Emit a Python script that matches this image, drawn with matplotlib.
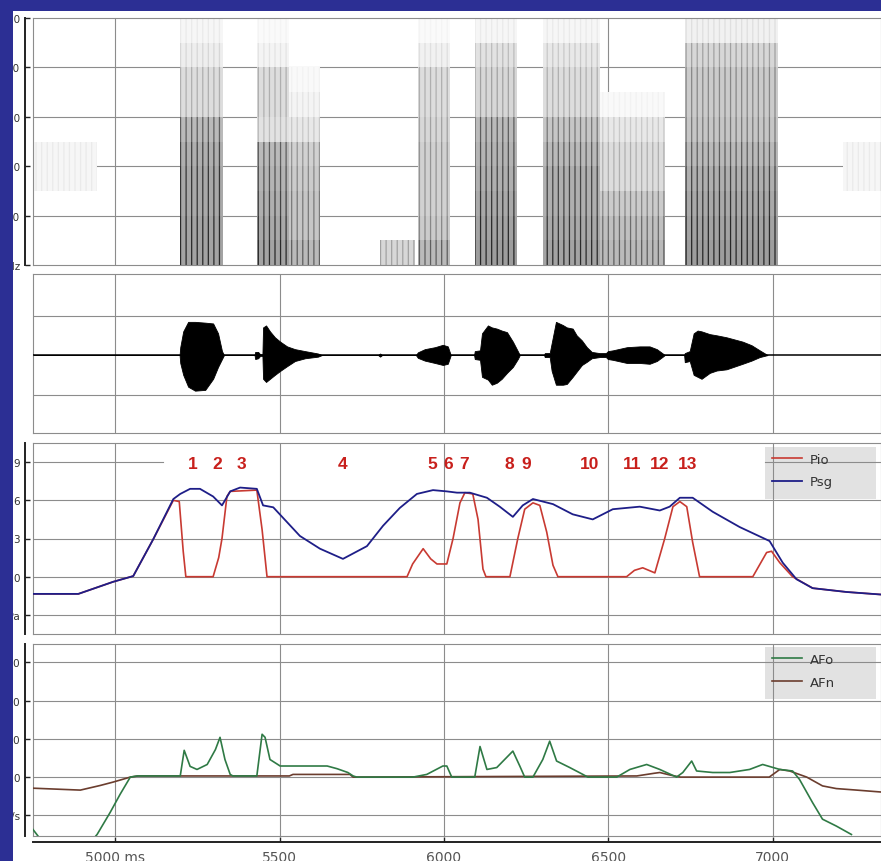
import numpy as np
import matplotlib
matplotlib.use("Agg")
import matplotlib.pyplot as plt
from matplotlib.patches import Rectangle

# ---- data ----
# time axis (ms)
x_ticks = [5000, 5500, 6000, 6500, 7000]
x_labels = ["5000 ms", "5500", "6000", "6500", "7000"]

# spectrogram: segments (start ms, end ms) and darkness per 500 Hz band (0..5000 Hz)
spec_start = [4750, 5198, 5431, 5530, 5806, 5921, 6094, 6301, 6474, 6733, 7213]
spec_end = [4945, 5328, 5530, 5623, 5912, 6018, 6222, 6474, 6672, 7016, 7330]
spec_dark = [
    [0.0, 0.0, 0.0, 0.08, 0.08, 0.0, 0.0, 0.0, 0.0, 0.0],
    [0.8, 0.8, 0.75, 0.75, 0.7, 0.6, 0.3, 0.3, 0.15, 0.08],
    [0.8, 0.75, 0.7, 0.65, 0.6, 0.25, 0.3, 0.3, 0.1, 0.04],
    [0.6, 0.5, 0.5, 0.45, 0.4, 0.2, 0.1, 0.05, 0.0, 0.0],
    [0.35, 0.0, 0.0, 0.0, 0.0, 0.0, 0.0, 0.0, 0.0, 0.0],
    [0.6, 0.45, 0.4, 0.4, 0.4, 0.35, 0.3, 0.3, 0.12, 0.04],
    [0.85, 0.8, 0.75, 0.7, 0.65, 0.6, 0.35, 0.35, 0.25, 0.08],
    [0.8, 0.75, 0.7, 0.7, 0.6, 0.5, 0.3, 0.3, 0.2, 0.08],
    [0.6, 0.55, 0.45, 0.3, 0.3, 0.2, 0.05, 0.0, 0.0, 0.0],
    [0.85, 0.8, 0.75, 0.7, 0.6, 0.5, 0.45, 0.45, 0.35, 0.12],
    [0.0, 0.0, 0.0, 0.08, 0.08, 0.0, 0.0, 0.0, 0.0, 0.0],
]
spec_yticks = [0, 1000, 2000, 3000, 4000, 5000]
spec_ylabels = ["Hz", "1000", "2000", "3000", "4000", "5000"]

# audio waveform envelope (upper / lower)
wave_t = [4750, 5196, 5198, 5207, 5222, 5243, 5274, 5298, 5313, 5325, 5331,
          5424, 5426, 5435, 5441, 5448, 5450, 5459, 5471, 5486, 5502, 5523, 5547, 5578, 5617, 5629,
          5800, 5806, 5812,
          5915, 5921, 5942, 5973, 5997, 6012, 6021,
          6092, 6094, 6110, 6116, 6134, 6146, 6161, 6176, 6192, 6210, 6225, 6231,
          6305, 6307, 6322, 6328, 6341, 6362, 6374, 6392, 6404, 6420, 6435, 6450, 6474, 6493,
          6499, 6514, 6557, 6596, 6626, 6648, 6666, 6672,
          6731, 6733, 6748, 6760, 6772, 6784, 6809, 6830, 6860, 6909, 6936, 6961, 6985]
wave_hi = [0, 0, 0.2, 0.6, 0.84, 0.84, 0.82, 0.8, 0.55, 0.1, 0,
           0, 0.08, 0.08, 0.02, 0.02, 0.7, 0.75, 0.6, 0.45, 0.34, 0.22, 0.15, 0.1, 0.04, 0,
           0, 0.04, 0,
           0, 0.07, 0.15, 0.2, 0.26, 0.22, 0,
           0, 0.1, 0.12, 0.55, 0.75, 0.7, 0.67, 0.62, 0.58, 0.34, 0.1, 0,
           0, 0.05, 0.05, 0.3, 0.84, 0.76, 0.7, 0.67, 0.5, 0.37, 0.2, 0.08, 0.05, 0.05,
           0.1, 0.12, 0.2, 0.22, 0.22, 0.15, 0.04, 0,
           0, 0.05, 0.1, 0.55, 0.62, 0.6, 0.53, 0.5, 0.45, 0.34, 0.25, 0.12, 0]
wave_lo = [0, 0, -0.2, -0.5, -0.8, -0.9, -0.88, -0.6, -0.3, -0.1, 0,
           0, -0.1, -0.08, -0.02, -0.02, -0.6, -0.68, -0.6, -0.5, -0.4, -0.28, -0.15, -0.08, -0.04, 0,
           0, -0.04, 0,
           0, -0.07, -0.14, -0.2, -0.25, -0.22, 0,
           0, -0.1, -0.12, -0.55, -0.62, -0.75, -0.7, -0.6, -0.45, -0.3, -0.1, 0,
           0, -0.05, -0.05, -0.4, -0.75, -0.75, -0.73, -0.55, -0.42, -0.25, -0.17, -0.08, -0.05, -0.05,
           -0.1, -0.12, -0.2, -0.2, -0.22, -0.15, -0.04, 0,
           0, -0.18, -0.15, -0.5, -0.55, -0.6, -0.45, -0.39, -0.36, -0.22, -0.14, -0.05, 0]

# pressures (hPa)
psg_t = [4750, 4888, 4994, 5055, 5116, 5177, 5198, 5228, 5258, 5298, 5325, 5350, 5380, 5431,
         5450, 5481, 5562, 5623, 5693, 5766, 5815, 5866, 5918, 5967, 6009, 6040, 6079, 6131,
         6170, 6210, 6240, 6271, 6332, 6392, 6453, 6514, 6596, 6657, 6687, 6718, 6757, 6818,
         6900, 6991, 7031, 7073, 7122, 7225, 7330]
psg = [-1.35, -1.35, -0.4, 0.05, 2.95, 6.1, 6.5, 6.9, 6.9, 6.3, 5.6, 6.7, 7.0, 6.9,
       5.6, 5.45, 3.2, 2.2, 1.4, 2.4, 4.0, 5.4, 6.5, 6.8, 6.7, 6.6, 6.6, 6.2,
       5.5, 4.7, 5.6, 6.1, 5.7, 4.9, 4.5, 5.3, 5.5, 5.2, 5.5, 6.2, 6.2, 5.1,
       3.9, 2.8, 1.1, -0.2, -0.9, -1.2, -1.4]
pio_t = [4750, 4888, 4994, 5055, 5116, 5177, 5195, 5207, 5215, 5298, 5315, 5325, 5340, 5350,
         5431, 5447, 5462, 5888, 5905, 5937, 5960, 5979, 6009, 6028, 6049, 6064, 6088, 6104,
         6119, 6128, 6201, 6225, 6246, 6271, 6292, 6313, 6332, 6347, 6556, 6580, 6605, 6642,
         6672, 6697, 6718, 6739, 6757, 6778, 6940, 6982, 6997, 7022, 7061, 7122, 7225, 7330]
pio = [-1.35, -1.35, -0.4, 0.05, 2.95, 6.0, 5.9, 2.0, 0.0, 0.0, 1.5, 3.0, 6.3, 6.7,
       6.8, 3.7, 0.0, 0.0, 1.0, 2.2, 1.4, 1.0, 1.0, 3.0, 5.8, 6.6, 6.5, 4.5,
       0.6, 0.0, 0.0, 3.0, 5.3, 5.8, 5.6, 3.5, 0.9, 0.0, 0.0, 0.5, 0.7, 0.3,
       3.0, 5.5, 5.9, 5.5, 2.7, 0.0, 0.0, 1.9, 2.0, 1.1, 0.0, -0.9, -1.2, -1.4]
p_yticks = [-3, 0, 3, 6, 9]
p_ylabels = ["hPa", "0", "3", "6", "9"]

# event numbers above the pressure traces
event_labels = ["1", "2", "3", "4", "5", "6", "7", "8", "9", "10", "11", "12", "13"]
event_t = [5237, 5310, 5383, 5693, 5964, 6012, 6061, 6198, 6252, 6444, 6572, 6657, 6742]

# airflow (ml/s)
afo_t = [4750, 4775, 4930, 4945, 4985, 5015, 5046, 5067, 5198, 5210, 5228, 5249, 5280, 5305,
         5319, 5334, 5350, 5358, 5431, 5447, 5456, 5471, 5502, 5645, 5675, 5708, 5724, 5735,
         5906, 5948, 5997, 6009, 6024, 6094, 6110, 6131, 6161, 6210, 6231, 6246, 6271, 6301,
         6322, 6343, 6383, 6423, 6438, 6526, 6566, 6617, 6657, 6708, 6727, 6754, 6769, 6818,
         6870, 6930, 6970, 7022, 7061, 7082, 7122, 7152, 7194, 7240]
afo = [-137, -165, -165, -150, -92, -45, 0, 3, 3, 70, 28, 20, 33, 72,
       104, 46, 7, 3, 3, 112, 104, 46, 29, 29, 22, 12, 3, 0,
       0, 7, 29, 29, 0, 0, 80, 20, 25, 68, 29, 0, 0, 46,
       94, 42, 25, 7, 0, 0, 20, 33, 20, 0, 12, 42, 16, 12,
       12, 20, 33, 20, 16, -6, -67, -110, -128, -150]
afn_t = [4750, 4894, 4954, 4994, 5046, 5070, 5530, 5541, 5714, 5724, 6587, 6640, 6657,
         6690, 6720, 6990, 7022, 7052, 7104, 7152, 7194, 7256, 7330]
afn = [-29, -34, -22, -13, 0, 3, 3, 7, 7, 0, 3, 10, 12,
       5, 0, 0, 20, 16, 0, -23, -30, -34, -39]
af_yticks = [-100, 0, 100, 200, 300]
af_ylabels = ["ml/s", "0", "100", "200", "300"]

# ---- figure ----
W, H = 881, 862
T0, T1 = 4750, 7330
GRID = "#8c8c8c"
BLUE = "#2c2f94"

fig = plt.figure(figsize=(W / 100, H / 100), dpi=100)
fig.patch.set_facecolor("white")


def add_panel(top, bottom):
    return fig.add_axes([33 / W, 1 - bottom / H, (W - 33) / W, (bottom - top) / H])


def style_panel(ax, ylim, hgrid, yticks=None, ylabels=None):
    ax.set_xlim(T0, T1)
    ax.set_ylim(*ylim)
    for s in ["top", "right", "bottom"]:
        ax.spines[s].set_color(GRID)
        ax.spines[s].set_linewidth(0.8)
    ax.set_xticks([])
    for t in x_ticks:
        ax.axvline(t, color=GRID, lw=0.8, zorder=0.6)
    for y in hgrid:
        ax.axhline(y, color=GRID, lw=0.8, zorder=0.6)
    if yticks is None:
        ax.spines["left"].set_color(GRID)
        ax.spines["left"].set_linewidth(0.8)
        ax.set_yticks([])
        return
    # ruler on the left, frame line at the panel edge
    ax.spines["left"].set_position(("outward", 5.8))
    ax.spines["left"].set_color("#222222")
    ax.spines["left"].set_linewidth(1.4)
    ax.plot([0, 0], [0, 1], transform=ax.transAxes, color=GRID, lw=0.8, clip_on=False)
    ax.set_yticks(yticks, ylabels)
    ax.tick_params(axis="y", direction="in", length=3.6, width=1.0, pad=3.6,
                   labelsize=7.5, labelcolor="#333333", color="#222222")


# spectrogram
ax_s = add_panel(19, 266)
style_panel(ax_s, (0, 5000), [1000, 2000, 3000, 4000], spec_yticks, spec_ylabels)
plt.rcParams["hatch.linewidth"] = 0.9
for t0, t1, bands in zip(spec_start, spec_end, spec_dark):
    for k, d in enumerate(bands):
        if d <= 0:
            continue
        face = str(1 - 0.45 * d)
        hatch_c = str(max(1 - 1.05 * d, 0.15))
        ax_s.bar(t0, 500, width=t1 - t0, bottom=k * 500, align="edge",
                 color=face, edgecolor=hatch_c, hatch="|||", linewidth=0, zorder=1)

# waveform
ax_w = add_panel(275, 434)
style_panel(ax_w, (-1.97, 2.05), [-1, 1])
ax_w.fill_between(wave_t, wave_lo, wave_hi, color="black", lw=0.6, zorder=2)
ax_w.axhline(0, color="black", lw=1.1, zorder=3)

# pressures
ax_p = add_panel(444, 635)
style_panel(ax_p, (-4.5, 10.5), [-3, 0, 3, 6], p_yticks, p_ylabels)
ax_p.plot([T0, 5146], [9, 9], color=GRID, lw=0.8, zorder=0.6)
ax_p.plot([6976, T1], [9, 9], color=GRID, lw=0.8, zorder=0.6)
line_pio, = ax_p.plot(pio_t, pio, color="#c83a32", lw=1.2, label="Pio", zorder=3)
line_psg, = ax_p.plot(psg_t, psg, color="#1e1e88", lw=1.3, label="Psg", zorder=4)
for lab, t in zip(event_labels, event_t):
    ax_p.text(t, 8.9, lab, color="#c8201c", fontsize=12.5, fontweight="bold",
              family="Liberation Sans", ha="center", va="center", zorder=5)
ax_p.add_patch(Rectangle((0.863, 0.707), 0.131, 0.272, transform=ax_p.transAxes,
                         facecolor="#e2e2e2", edgecolor="none", zorder=0.4))
ax_p.legend(handles=[line_pio, line_psg], loc="upper left", bbox_to_anchor=(0.8715, 0.95),
            frameon=False, fontsize=9.5, handlelength=2.25, handletextpad=0.6,
            borderpad=0, borderaxespad=0, labelspacing=0.75, labelcolor="#333333")

# airflow
ax_a = add_panel(645, 837)
style_panel(ax_a, (-154, 348), [-100, 0, 100, 200, 300], af_yticks, af_ylabels)
line_afo, = ax_a.plot(afo_t, afo, color="#2f7a45", lw=1.2, label="AFo", zorder=4)
line_afn, = ax_a.plot(afn_t, afn, color="#6b3d2e", lw=1.2, label="AFn", zorder=3)
ax_a.add_patch(Rectangle((0.863, 0.714), 0.131, 0.27, transform=ax_a.transAxes,
                         facecolor="#e2e2e2", edgecolor="none", zorder=0.4))
ax_a.legend(handles=[line_afo, line_afn], loc="upper left", bbox_to_anchor=(0.8715, 0.955),
            frameon=False, fontsize=9.5, handlelength=2.25, handletextpad=0.6,
            borderpad=0, borderaxespad=0, labelspacing=0.75, labelcolor="#333333")

# time ruler at the bottom
ax_a.spines["bottom"].set_position(("outward", 4.3))
ax_a.spines["bottom"].set_color("#222222")
ax_a.spines["bottom"].set_linewidth(1.4)
ax_a.plot([0, 1], [0, 0], transform=ax_a.transAxes, color=GRID, lw=0.8, clip_on=False)
ax_a.set_xticks(x_ticks, x_labels)
ax_a.tick_params(axis="x", direction="in", length=3.6, width=1.0, pad=6.0,
                 labelsize=10, labelcolor="#555555", color="#222222")

# window border of the screenshot (covers the left part of the y labels, as in the source)
fig.patches.append(Rectangle((0, 0), 13 / W, 1, transform=fig.transFigure,
                             facecolor=BLUE, edgecolor="none", zorder=10))
fig.patches.append(Rectangle((0, 1 - 12 / H), 1, 12 / H, transform=fig.transFigure,
                             facecolor=BLUE, edgecolor="none", zorder=10))

fig.savefig("out.png", dpi=100)
